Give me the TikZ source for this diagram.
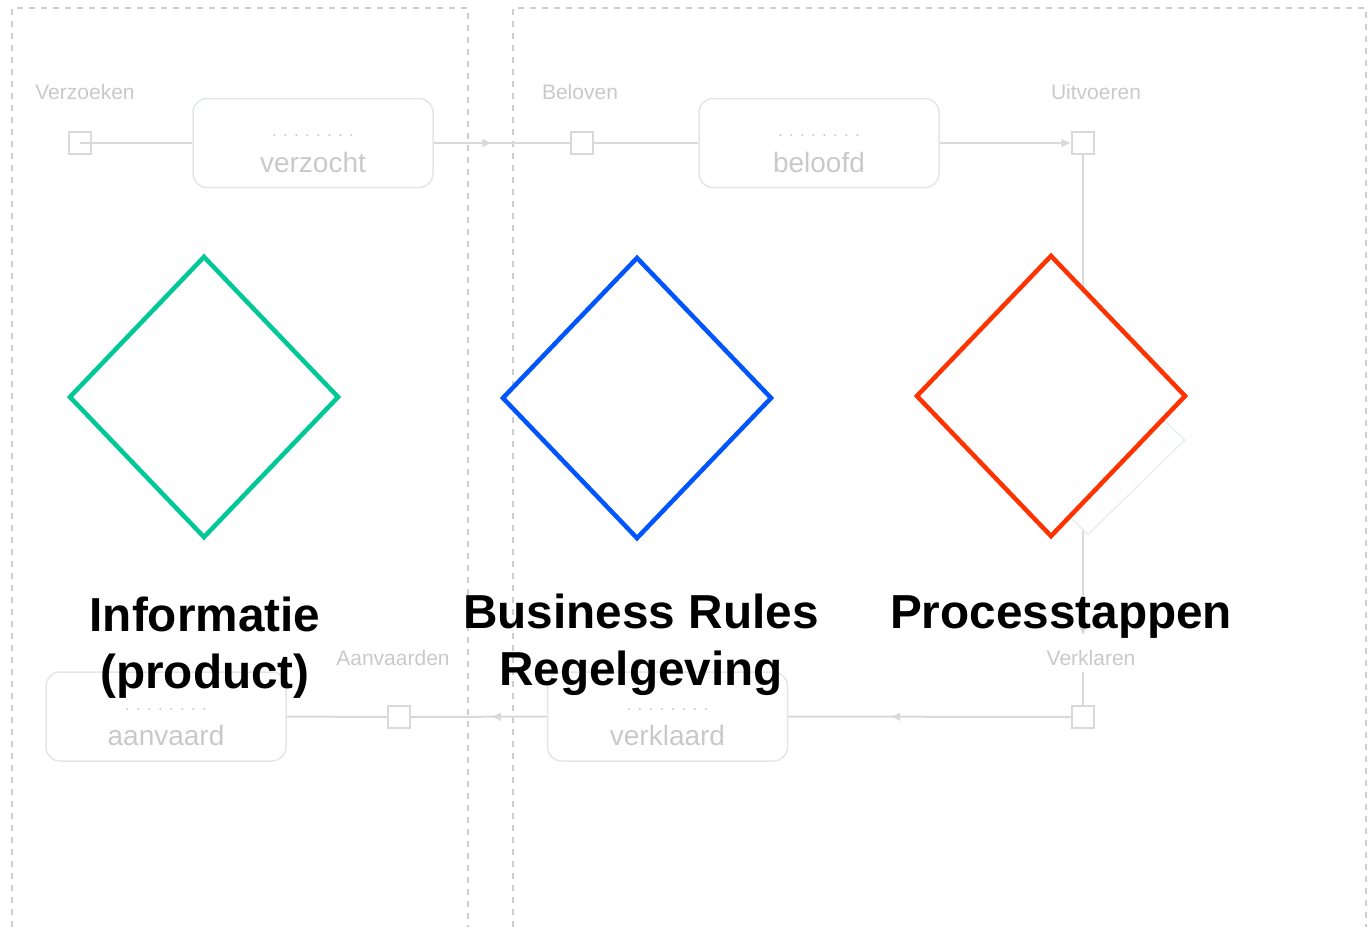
\documentclass[tikz,border=0pt]{standalone}
\usepackage{fontspec}
\setmainfont{Liberation Sans}
\usetikzlibrary{shapes.geometric, arrows.meta, decorations.markings}
\definecolor{lanegray}{HTML}{CDCDCD}
\definecolor{boxgray}{HTML}{E2E6E6}
\definecolor{linegray}{HTML}{D9D9D9}
\definecolor{txtgray}{HTML}{C9C9C9}
\definecolor{infogreen}{HTML}{00C896}
\definecolor{rulesblue}{HTML}{0055FF}
\definecolor{procred}{HTML}{FF3300}
\definecolor{ghostgray}{HTML}{E9EFEF}

\begin{document}
\begin{tikzpicture}[x=1pt, y=-1pt,
    lane/.style={draw=lanegray, line width=1.2pt, dash pattern=on 6pt off 6pt},
    statebox/.style={draw=boxgray, line width=1.5pt, rounded corners=14pt, minimum width=240pt, minimum height=89pt, inner sep=0pt},
    stname/.style={text=txtgray, font=\fontsize{28}{30}\selectfont, inner sep=0pt},
    stdots/.style={text=txtgray, font=\fontsize{17}{18}\selectfont, inner sep=0pt},
    act/.style={draw=linegray, line width=1.5pt, minimum size=22pt, inner sep=0pt},
    actlabel/.style={text=txtgray, font=\fontsize{21}{22}\selectfont, inner sep=0pt},
    conn/.style={draw=linegray, line width=2pt},
    endtip/.style={-{Latex[length=10pt,width=9pt]}},
    midtip/.style={postaction={decorate}, decoration={markings, mark=at position #1 with {\arrow{Latex[length=10pt,width=9pt]}}}},
    gate/.style={diamond, fill=white, line width=4.5pt, minimum width=270pt, minimum height=282pt, inner sep=0pt},
    bigtext/.style={font=\fontsize{47.7}{57}\selectfont\bfseries, align=center, inner sep=0pt}]
  \useasboundingbox (0,0) rectangle (1371,927);

  % swimlanes
  \draw[lane] (12,927) -- (12,8) -- (468,8) -- (468,927);
  \draw[lane] (513,927) -- (513,8) -- (1366,8) -- (1366,927);

  % acts and states
  \node[actlabel] (verzoekenL) at (85,92) {Verzoeken};
  \node[act] (verzoeken) at (80,143) {};
  \node[actlabel] (belovenL) at (580,92) {Beloven};
  \node[act] (beloven) at (582,143) {};
  \node[actlabel] (uitvoerenL) at (1096,92) {Uitvoeren};
  \node[act] (uitvoeren) at (1083,143) {};
  \node[actlabel] (verklarenL) at (1091,658) {Verklaren};
  \node[act] (verklaren) at (1083,717) {};
  \node[actlabel] (aanvaardenL) at (393,658) {Aanvaarden};
  \node[act] (aanvaarden) at (399,717) {};

  \node[statebox] (verzocht) at (313,143) {};
  \node[stdots] (verzochtD) at ([yshift=7pt]verzocht.center) {. . . . . . . .};
  \node[stname] (verzochtT) at ([yshift=-19pt]verzocht.center) {verzocht};
  \node[statebox] (beloofd) at (819,143) {};
  \node[stdots] (beloofdD) at ([yshift=7pt]beloofd.center) {. . . . . . . .};
  \node[stname] (beloofdT) at ([yshift=-19pt]beloofd.center) {beloofd};
  \node[statebox] (verklaard) at (667.5,716.5) {};
  \node[stdots] (verklaardD) at ([yshift=7pt]verklaard.center) {. . . . . . . .};
  \node[stname] (verklaardT) at ([yshift=-19pt]verklaard.center) {verklaard};
  \node[statebox] (aanvaard) at (166,716.5) {};
  \node[stdots] (aanvaardD) at ([yshift=7pt]aanvaard.center) {. . . . . . . .};
  \node[stname] (aanvaardT) at ([yshift=-19pt]aanvaard.center) {aanvaard};

  \coordinate (uitEnd) at (1083,636);
  \coordinate (vklStart) at (1083,672);
  \draw[conn] (verzoeken.center) -- (verzocht.west);
  \draw[conn, midtip=0.43] (verzocht.east) -- (beloven.west);
  \draw[conn] (beloven.east) -- (beloofd.west);
  \draw[conn, endtip] (beloofd.east) -- (uitvoeren.west);
  \draw[conn, endtip] (uitvoeren.south) -- (uitEnd);
  \draw[conn] (vklStart) -- (verklaren.north);
  \draw[conn, midtip=0.64] (verklaren.west) -- (verklaard.east);
  \draw[conn, midtip=0.41] (verklaard.west) -- (aanvaarden.east);
  \draw[conn] (aanvaarden.west) -- (aanvaard.east);

  % the three diamonds
  \node[diamond, draw=ghostgray, fill=white, line width=1.5pt, minimum width=194pt, minimum height=190pt, inner sep=0pt] (ghost) at (1088,440) {};
  \node[gate, draw=infogreen] (info) at (204,397) {};
  \node[gate, draw=rulesblue] (rules) at (637,398) {};
  \node[gate, draw=procred] (proc) at (1051,396) {};

  \node[bigtext, anchor=base] (infoT) at (205,688) {Informatie\\(product)};
  \node[bigtext, anchor=base] (rulesT) at (641,685) {Business Rules\\Regelgeving};
  \node[bigtext, anchor=base] (procT) at (1061,628) {Processtappen};
\end{tikzpicture}
\end{document}
